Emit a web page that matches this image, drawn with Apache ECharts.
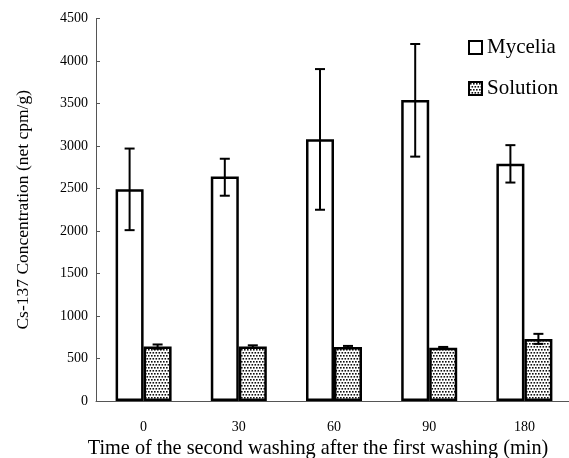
<!DOCTYPE html>
<html>
<head>
<meta charset="utf-8">
<script src="https://cdn.jsdelivr.net/npm/echarts@6/dist/echarts.min.js"></script>
<style>
  html, body { margin: 0; padding: 0; background: #fff; }
  #chart { width: 569px; height: 458px; }
</style>
</head>
<body>
<div id="chart"></div>
<script>
// data
const categories = ['0', '30', '60', '90', '180'];
const myceliaMean = [2490, 2640, 3080, 3540, 2790];
const myceliaLow = [2010, 2415, 2250, 2875, 2570];
const myceliaHigh = [2970, 2850, 3905, 4200, 3010];
const solutionMean = [640, 640, 635, 627, 729];
const solutionLow = [615, 625, 622, 618, 672];
const solutionHigh = [665, 655, 648, 636, 790];

const serif = 'Liberation Serif, Times New Roman, serif';

// dotted fill for the solution bars
function dotPattern() {
    let c = document.createElement('canvas');
    c.width = 6;
    c.height = 6;
    let ctx = c.getContext('2d');
    ctx.fillStyle = '#fff';
    ctx.fillRect(0, 0, 6, 6);
    ctx.fillStyle = '#111';
    ctx.fillRect(1, 1, 1.6, 1.6);
    ctx.fillRect(4, 1, 1.6, 1.6);
    ctx.fillRect(2.5, 4, 1.6, 1.6);
    ctx.fillRect(5.5, 4, 1.6, 1.6);
    ctx.fillRect(-0.5, 4, 1.6, 1.6);
    return c;
}

function errorSeries(low, high, offset) {
    return {
        type: 'custom',
        z: 5,
        data: categories.map((c, i) => [i, low[i], high[i]]),
        renderItem: function (params, api) {
            let lo = api.coord([api.value(0), api.value(1)]);
            let hi = api.coord([api.value(0), api.value(2)]);
            let x = lo[0] + offset;
            let cap = 5;
            let style = { stroke: '#000', lineWidth: 2 };
            return {
                type: 'group',
                children: [
                    { type: 'line', shape: { x1: x, y1: lo[1], x2: x, y2: hi[1] }, style: style },
                    { type: 'line', shape: { x1: x - cap, y1: lo[1], x2: x + cap, y2: lo[1] }, style: style },
                    { type: 'line', shape: { x1: x - cap, y1: hi[1], x2: x + cap, y2: hi[1] }, style: style }
                ]
            };
        }
    };
}

let chart = echarts.init(document.getElementById('chart'));

const option = {
    animation: false,
    backgroundColor: '#fff',
    textStyle: { fontFamily: serif, color: '#000' },
    grid: { left: 96, top: 18.5, width: 476, height: 382.5, outerBoundsMode: 'none' },
    legend: {
        data: ['Mycelia', 'Solution'],
        orient: 'vertical',
        icon: 'rect',
        left: 463,
        top: 32,
        itemGap: 20,
        itemWidth: 13,
        itemHeight: 13,
        itemStyle: { borderColor: '#000', borderWidth: 2 },
        textStyle: { fontFamily: serif, fontSize: 21, color: '#000' }
    },
    xAxis: {
        type: 'category',
        data: categories,
        name: 'Time of the second washing after the first washing (min)',
        nameLocation: 'middle',
        nameGap: 31,
        nameTextStyle: { fontFamily: serif, fontSize: 20.3, color: '#000', padding: [0, 32, 0, 0] },
        axisLine: { lineStyle: { color: '#555', width: 1 } },
        axisTick: { inside: true, length: 3, lineStyle: { color: '#555' } },
        axisLabel: { fontFamily: serif, fontSize: 14, color: '#000', margin: 19 }
    },
    yAxis: {
        type: 'value',
        min: 0,
        max: 4500,
        interval: 500,
        name: 'Cs-137 Concentration (net cpm/g)',
        nameLocation: 'middle',
        nameGap: 64,
        nameTextStyle: { fontFamily: serif, fontSize: 17.5, color: '#000' },
        splitLine: { show: false },
        axisLine: { show: true, lineStyle: { color: '#555', width: 1 } },
        axisTick: { show: true, inside: true, length: 4, lineStyle: { color: '#555' } },
        axisLabel: {
            fontFamily: serif, fontSize: 14, color: '#000', margin: 8,
            formatter: function (v) { return String(v); }
        }
    },
    series: [
        {
            name: 'Mycelia',
            type: 'bar',
            data: myceliaMean,
            barWidth: 28,
            barGap: '0%',
            itemStyle: { color: '#fff', borderColor: '#000', borderWidth: 2.5 }
        },
        {
            name: 'Solution',
            type: 'bar',
            data: solutionMean,
            barWidth: 28,
            itemStyle: { color: { image: dotPattern(), repeat: 'repeat' }, borderColor: '#000', borderWidth: 2.5 }
        },
        errorSeries(myceliaLow, myceliaHigh, -14),
        errorSeries(solutionLow, solutionHigh, 14)
    ]
};

chart.setOption(option);
</script>
</body>
</html>
